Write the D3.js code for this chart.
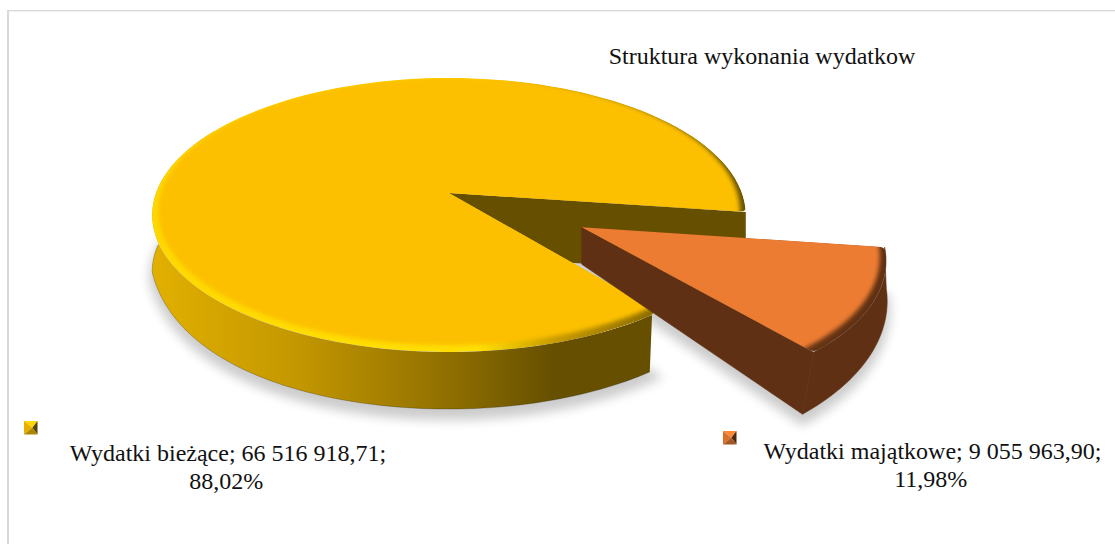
<!DOCTYPE html>
<html><head><meta charset="utf-8">
<script src="https://cdn.jsdelivr.net/npm/d3@7/dist/d3.min.js"></script>
<style>html,body{margin:0;padding:0;background:#fff;overflow:hidden}svg{display:block}</style>
</head><body>
<svg id="c" width="1115" height="544"></svg>
<script>
const title = "Struktura wykonania wydatkow";
const categories = ["Wydatki bieżące", "Wydatki majątkowe"];
const values = [66516918.71, 9055963.90];
const topColors = ["#FCC000", "#EC7C30"];
const wallColors = ["#665000", "#5F3013"];

const svg = d3.select("#c");
const defs = svg.append("defs");
const pl = d3.formatLocale({decimal:",", thousands:" ", grouping:[3], currency:["","zł"], percent:"%"});
const fVal = pl.format(",.2f"), fPct = pl.format(".2%");
const total = d3.sum(values);

// frame
svg.append("rect").attr("x",7).attr("y",10).attr("width",2).attr("height",534).attr("fill","#d9d9d9");
svg.append("rect").attr("x",7).attr("y",10).attr("width",1108).attr("height",1.4).attr("fill","#d9d9d9");

// pie + perspective projection of the pie plane
const rad = d3.scaleLinear().domain([0,360]).range([0,2*Math.PI]);
const arcs = d3.pie().sort(null).startAngle(rad(141.1)).endAngle(rad(141.1+360))(values);
const CX=449, CY=193, B=293, A=133.5, K=0.1606;
const proj = (X,Y)=>[CX+B*X/(1-K*Y), CY+A*Y/(1-K*Y)];
const explode = [0, 0.5], radii=[1,0.97];
const corner = [[0.042,13],[0.022,6]];
const line = d3.line();

const slices = arcs.map((a,i)=>{
  const mid=(a.startAngle+a.endAngle)/2;
  const ox=explode[i]*Math.sin(mid), oy=-explode[i]*Math.cos(mid);
  return {a,i,ox,oy,
    pt:(t,r=1)=>[ox+radii[i]*r*Math.sin(t), oy-radii[i]*r*Math.cos(t)]};
});
const wall = [
  (X,Y)=>{const y=Math.max(Y,0);return [X<0?-39*X*Math.max(y-0.16,0)*(1-y):-6*X*y*y, 57];},
  (X,Y)=>[14*Y*(1-Y)-11*Y*Y, 37+33*(Y-0.247)]
];
const topPt = (s,t,r=1)=>{const p=s.pt(t,r);return proj(p[0],p[1]);};
const botPt = (s,t,r=1)=>{const p=s.pt(t,r),q=proj(p[0],p[1]),d=wall[s.i](p[0],p[1]);return [q[0]+d[0],q[1]+d[1]];};
const samples=(t0,t1,n=120)=>d3.range(n+1).map(j=>t0+(t1-t0)*j/n);
const lerp=(a,b,u)=>[a[0]+(b[0]-a[0])*u,a[1]+(b[1]-a[1])*u];
// top face with softly rounded outer corners
function facePath(s){
  const A0=proj(s.ox,s.oy), S=topPt(s,s.a.startAngle), E=topPt(s,s.a.endAngle);
  const del=corner[s.i][0], len=corner[s.i][1], del2=corner[1][0], len2=corner[1][1];
  const arc=samples(s.a.startAngle+del,s.a.endAngle-del2).map(t=>topPt(s,t));
  const p=d3.path(), cut=(c,l)=>lerp(A0,c,1-l/Math.hypot(c[0]-A0[0],c[1]-A0[1]));
  const c1=cut(S,len), c2=cut(E,len2);
  p.moveTo(A0[0],A0[1]); p.lineTo(c1[0],c1[1]);
  p.quadraticCurveTo(S[0],S[1],arc[0][0],arc[0][1]);
  arc.forEach(q=>p.lineTo(q[0],q[1]));
  p.quadraticCurveTo(E[0],E[1],c2[0],c2[1]);
  p.closePath();
  return p.toString();
}
const apexBot = s=>{const d=wall[s.i](s.ox,s.oy),q=proj(s.ox,s.oy);return [q[0],q[1]+d[1]];};

// filters and gradients
const blur=(id,sd)=>defs.append("filter").attr("id",id).attr("x","-20%").attr("y","-20%").attr("width","140%").attr("height","140%")
  .append("feGaussianBlur").attr("stdDeviation",sd);
blur("sh",5.5); blur("bev",2);
const grad=(id,x1,x2,st)=>{const g=defs.append("linearGradient").attr("id",id).attr("gradientUnits","userSpaceOnUse")
  .attr("x1",x1).attr("x2",x2).attr("y1",0).attr("y2",0);
  st.forEach(d=>g.append("stop").attr("offset",d[0]).attr("stop-color",d[1]));};
grad("wallY",152,653,[[0,"#E2B000"],[0.3,"#C29600"],[0.6,"#8E6E00"],[0.8,"#665000"],[1,"#665000"]]);
grad("rimY",152,745,[[0,"#FFD800"],[0.55,"#FFE000"],[0.68,"#C89A00"],[0.85,"#8A6C00"],[1,"#6B5400"]]);
grad("rimO",580,890,[[0,"#7A3E18"],[1,"#5F3013"]]);

// shadows
const shadow=svg.append("g").attr("filter","url(#sh)").attr("fill","#000").attr("stroke","#000").attr("stroke-width",6).attr("opacity",0.2);
slices.forEach(s=>{
  const pts=[apexBot(s),...samples(s.a.startAngle,s.a.endAngle).map(t=>botPt(s,t))];
  shadow.append("path").attr("d",line(pts)+"Z").attr("transform","translate(0,8)");
});

// main slice: back cut wall, outer wall, top
const s0=slices[0];
const ap0=proj(s0.ox,s0.oy), rc0=topPt(s0,s0.a.endAngle);
svg.append("path").attr("d",line([ap0,rc0,[rc0[0],rc0[1]+62],[ap0[0],ap0[1]+62]])+"Z").attr("fill",wallColors[0]);
const wallRange=samples(s0.a.startAngle+0.03,rad(300));
svg.append("path").attr("d",line([...wallRange.map(t=>topPt(s0,t)),...wallRange.slice().reverse().map(t=>botPt(s0,t))])+"Z").attr("fill","url(#wallY)");
svg.append("path").attr("d",line(samples(s0.a.startAngle+0.03,rad(272)).map(t=>botPt(s0,t)))).attr("fill","none").attr("stroke","#000").attr("stroke-opacity",0.22).attr("stroke-width",1);

function drawTop(s,rim){
  const id="clip"+s.i;
  defs.append("clipPath").attr("id",id).append("path").attr("d",facePath(s));
  const g=svg.append("g").attr("clip-path",`url(#${id})`);
  g.append("path").attr("d",facePath(s)).attr("fill",rim);
  const ring=samples(0,2*Math.PI,240).map(t=>topPt(s,t,0.98));
  g.append("path").attr("d",line(ring)+"Z").attr("fill",topColors[s.i]).attr("filter","url(#bev)").attr("transform","translate(0,-3)");
}
drawTop(s0,"url(#rimY)");

// exploded slice: cut wall, outer wall, then top
const s1=slices[1];
const apT=proj(s1.ox,s1.oy), apB=apexBot(s1);
const r1=samples(s1.a.startAngle,s1.a.endAngle);
const wallG=svg.append("g").attr("fill",wallColors[1]).attr("stroke",wallColors[1]).attr("stroke-width",0.6);
wallG.append("path").attr("d",line([...r1.map(t=>topPt(s1,t)),...r1.slice().reverse().map(t=>botPt(s1,t))])+"Z");
wallG.append("path").attr("d",line([apT,topPt(s1,s1.a.endAngle),botPt(s1,s1.a.endAngle),apB])+"Z");
drawTop(s1,"url(#rimO)");

// text
const font="'Liberation Serif','Times New Roman',serif";
const txt=(x,y,t)=>svg.append("text").attr("x",x).attr("y",y).attr("text-anchor","middle")
  .attr("font-family",font).attr("font-size",24).attr("fill","#111").text(t);
txt(762,64,title);
const legendAt=[{mx:24,my:421,tx:228,ty:461},{mx:723,my:431,tx:932.5,ty:459}];
categories.forEach((c,i)=>{
  const L=legendAt[i];
  txt(L.tx,L.ty,`${c}; ${fVal(values[i])};`);
  txt(L.tx-1.8,L.ty+28,fPct(values[i]/total));
  const size=13.5,x=L.mx,y=L.my,cx=x+size*0.62,cy=y+size*0.5;
  const base=d3.color(topColors[i]);
  const faces=[
    [[x,y],[x+size,y],[cx,cy],base.brighter(0.3)],
    [[x,y],[cx,cy],[x,y+size],base.darker(0.25)],
    [[x+size,y],[x+size,y+size],[cx,cy],d3.color(wallColors[i]).darker(0.5)],
    [[x,y+size],[cx,cy],[x+size,y+size],base.darker(1)]
  ];
  faces.forEach(f=>svg.append("path").attr("d",line(f.slice(0,3))+"Z").attr("fill",f[3]));
});
</script>
</body></html>
